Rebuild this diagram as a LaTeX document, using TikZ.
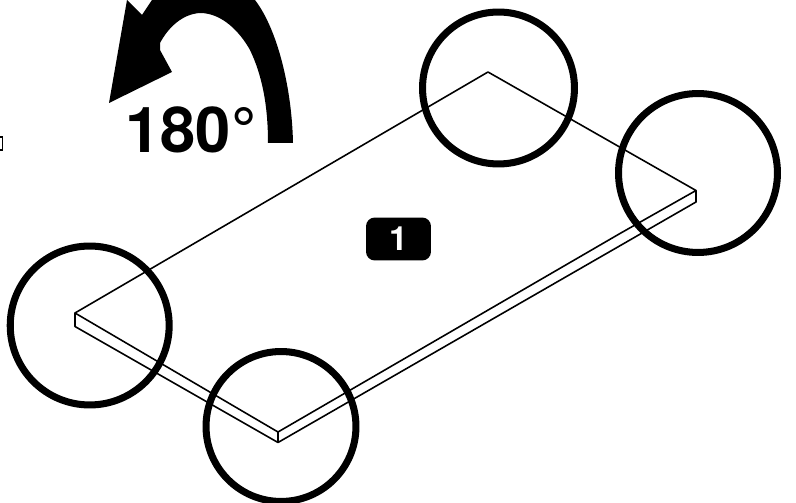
\documentclass[tikz,border=0pt]{standalone}
\usepackage{fontspec}
\setmainfont{TeX Gyre Heros}
\usepackage{tikz}
\usetikzlibrary{positioning,calc}
\begin{document}
\begin{tikzpicture}[x=0.02cm, y=-0.02cm, thick,
        edge/.style={draw, line width=0.9pt, line join=round},
        ring/.style={circle, draw, line width=4pt, inner sep=0pt, minimum size=#1*0.04cm},
        badge/.style={rectangle, fill=black, text=white, rounded corners=5pt, font=\bfseries\fontsize{19}{19}\selectfont, minimum width=1.3cm, minimum height=0.86cm, inner sep=0pt}]
    \useasboundingbox (0,0) rectangle (796,503);

    \coordinate (top) at (488,72);
    \coordinate (right) at (696,190.5);
    \coordinate (left) at (75,313);
    \coordinate (front) at (278,432);
    \coordinate (rightlow) at (696,202);
    \coordinate (leftlow) at (75,326.5);
    \coordinate (frontlow) at (278,442.5);
    \coordinate (jog) at (620,233.5);

    \path [edge] (left) -- (top) -- (right) -- (jog) -- (front) -- cycle;
    \path [edge] (left) -- (leftlow) -- (frontlow) -- (rightlow) -- (right);
    \path [edge] (front) -- (frontlow);

    \node [ring=76] (c1) at (498.5,88) {};
    \node [ring=79.5] (c2) at (698,173) {};
    \node [ring=79.5] (c3) at (89.7,325.5) {};
    \node [ring=75] (c4) at (281,426.5) {};

    \node [badge] (n1) at (398.5,239) {1};
    \node [font=\bfseries\fontsize{36}{36}\selectfont, inner sep=0pt] (angle) at (191,130) {180°};

    \begin{scope}
        \clip (0,0) rectangle (796,503);
        \fill (109,103) -- (172,72) -- (160,50) -- (160,43) .. controls (168,28) and (182,14) .. (200,13)
            .. controls (222,13) and (240,32) .. (250,50) .. controls (262,75) and (268,105) .. (268,143) -- (293,143)
            .. controls (292,90) and (278,30) .. (255,0) -- (152,0) -- (142,15) -- (127,0) -- cycle;
    \end{scope}
    \draw [line width=0.8pt] (-2,137) rectangle (2.5,150);
\end{tikzpicture}
\end{document}
